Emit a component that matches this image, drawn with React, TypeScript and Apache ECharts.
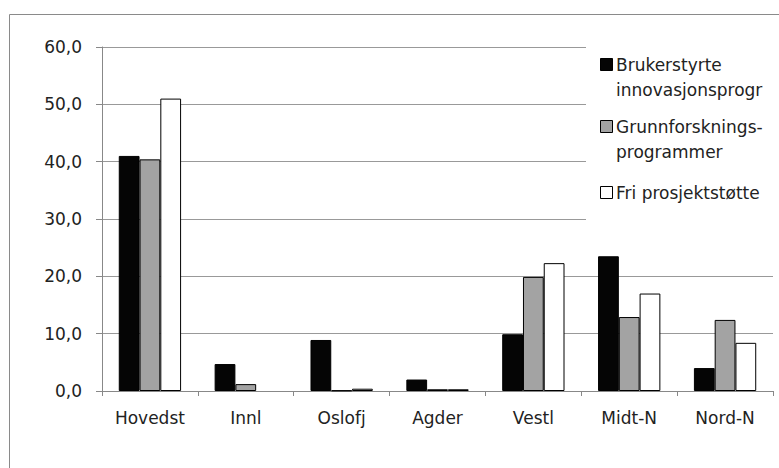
import React, { useEffect, useRef } from "react";
import * as echarts from "echarts";

const categories = ["Hovedst", "Innl", "Oslofj", "Agder", "Vestl", "Midt-N", "Nord-N"];
const brukerstyrte = [41.0, 4.7, 8.9, 2.0, 9.9, 23.5, 4.0];
const grunnforskning = [40.4, 1.2, 0.1, 0.3, 19.9, 12.9, 12.4];
const friProsjekt = [51.0, 0, 0.4, 0.3, 22.3, 17.0, 8.4];
const seriesNames = ["Brukerstyrte innovasjonsprogr", "Grunnforsknings-programmer", "Fri prosjektstøtte"];
const legendLines = [["Brukerstyrte", "innovasjonsprogr"], ["Grunnforsknings-", "programmer"], ["Fri prosjektstøtte"]];
const seriesColors = ["#050505", "#a3a3a3", "#ffffff"];

const FONT = "DejaVu Sans";

export default function App() {
  const ref = useRef<HTMLDivElement>(null);
  useEffect(() => {
    if (!ref.current) return;
    const chart = echarts.init(ref.current, null, { renderer: "svg" });
    const dataSets = [brukerstyrte, grunnforskning, friProsjekt];
    const legendEls: any[] = [
      { type: "rect", shape: { x: 586, y: 36, width: 200, height: 200 }, style: { fill: "#fff" }, z: 10 },
    ];
    const itemY = [65, 127, 193];
    legendLines.forEach((lines, i) => {
      legendEls.push({
        type: "rect",
        shape: { x: 600.5, y: itemY[i] - 6.5, width: 12, height: 12 },
        style: { fill: seriesColors[i], stroke: "#000", lineWidth: 1 },
        z: 11,
      });
      lines.forEach((ln, j) => {
        legendEls.push({
          type: "text",
          x: 616,
          y: itemY[i] + j * 25,
          style: { text: ln, font: `17px "${FONT}"`, fill: "#222", textVerticalAlign: "middle", textAlign: "left" },
          z: 11,
        });
      });
    });
    chart.setOption({
      animation: false,
      backgroundColor: "#fff",
      grid: { left: 102, right: 6, top: 47, bottom: 77, containLabel: false },
      xAxis: {
        type: "category",
        data: categories,
        axisLine: { lineStyle: { color: "#888", width: 1 } },
        axisTick: { show: true, length: 5, lineStyle: { color: "#888" } },
        axisLabel: { color: "#222", fontFamily: FONT, fontSize: 17, margin: 18, interval: 0 },
      },
      yAxis: {
        type: "value",
        min: 0,
        max: 60,
        interval: 10,
        axisLine: { show: true, lineStyle: { color: "#888", width: 1 } },
        axisTick: { show: true, length: 6, lineStyle: { color: "#888" } },
        axisLabel: {
          color: "#222",
          fontFamily: FONT,
          fontSize: 17,
          margin: 20,
          formatter: (v: number) => v.toFixed(1).replace(".", ","),
        },
        splitLine: { lineStyle: { color: "#999", width: 1 } },
      },
      series: dataSets.map((d, i) => ({
        name: seriesNames[i],
        type: "bar",
        data: d.map((v) => (v === 0 ? { value: v, itemStyle: { borderWidth: 0 } } : v)),
        barGap: "0%",
        barCategoryGap: "35%",
        itemStyle: { color: seriesColors[i], borderColor: "#000", borderWidth: 1 },
      })),
      graphic: [
        {
          type: "rect",
          shape: { x: 9.5, y: 14.5, width: 900, height: 600 },
          style: { fill: "none", stroke: "#8a8a8a", lineWidth: 1 },
          z: 20,
          silent: true,
        },
        ...legendEls,
      ],
    });
    return () => chart.dispose();
  }, []);
  return <div ref={ref} style={{ position: "fixed", left: 0, top: 0, width: 779, height: 468 }} />;
}
